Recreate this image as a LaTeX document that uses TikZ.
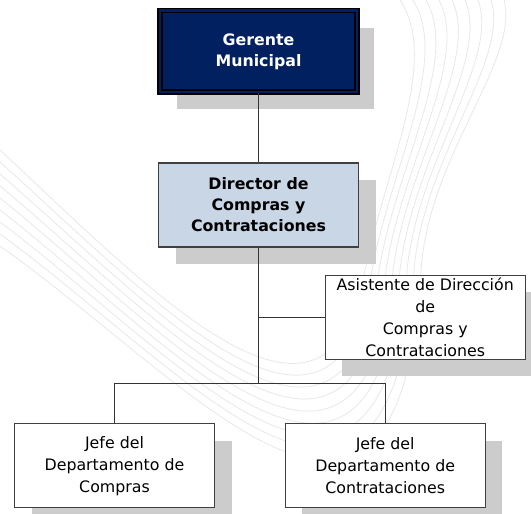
\documentclass[tikz,border=0pt]{standalone}
\usepackage{fontspec}
\setmainfont{DejaVu Sans}
\usetikzlibrary{shadows}
\definecolor{azulGerente}{RGB}{0,32,96}
\definecolor{azulDirector}{RGB}{200,214,230}
\definecolor{grisBorde}{RGB}{64,64,64}
\begin{document}
\begin{tikzpicture}[x=1pt,y=-1pt]
        \tikzset{BoxStyle/.style={draw=grisBorde, line width=1.2pt, fill=white,
                minimum width=200pt, minimum height=84pt, inner sep=0pt,
                align=center, font=\fontsize{15.8}{22}\selectfont,
                drop shadow={shadow xshift=17pt, shadow yshift=-17pt,
                        opacity=1, fill=black!20}},
                BoldStyle/.style={BoxStyle, font=\fontsize{15.8}{21}\selectfont\bfseries},
                EdgeStyle/.style={draw=black!80, line width=1pt},
                WaveStyle/.style={draw=black!9, line width=0.8pt}}
        \fill[white] (0,0) rectangle (531,514);
        \useasboundingbox (0,0) rectangle (531,514);
        \foreach \i in {0,...,8}
                \draw[WaveStyle] (0,{150+12*\i}) .. controls ({150+5*\i},{290+11.25*\i}) and ({330+8.75*\i},{480+20*\i}) .. ({365+7*\i},270)
                        .. controls ({386+5.4*\i},{168-1.75*\i}) and ({440+10*\i},60) .. ({400+13*\i},0);
        \node[BoldStyle, fill=azulGerente, text=white, draw=black, double=azulGerente,
                double distance=2.6pt, line width=1.4pt, minimum width=197pt,
                minimum height=81.5pt] (gerente) at (258.5,51.3) {Gerente\\Municipal};
        \node[BoldStyle, fill=azulDirector] (director) at (258.5,205) {Director de\\Compras y\\Contrataciones};
        \node[BoxStyle] (asistente) at (425.2,317.4) {Asistente de Dirección\\de\\Compras y\\Contrataciones};
        \node[BoxStyle] (jefeCompras) at (114.5,465.8) {Jefe del\\Departamento de\\Compras};
        \node[BoxStyle] (jefeContrat) at (385.2,465.8) {Jefe del\\Departamento de\\Contrataciones};
        \coordinate (bus) at (258.5,383.3);
        \draw[EdgeStyle] (gerente) -- (director);
        \draw[EdgeStyle] (director) -- (bus);
        \draw[EdgeStyle] (asistente.west) -- (asistente.west -| bus);
        \draw[EdgeStyle] (jefeCompras) |- (bus) -| (jefeContrat);
\end{tikzpicture}
\end{document}
